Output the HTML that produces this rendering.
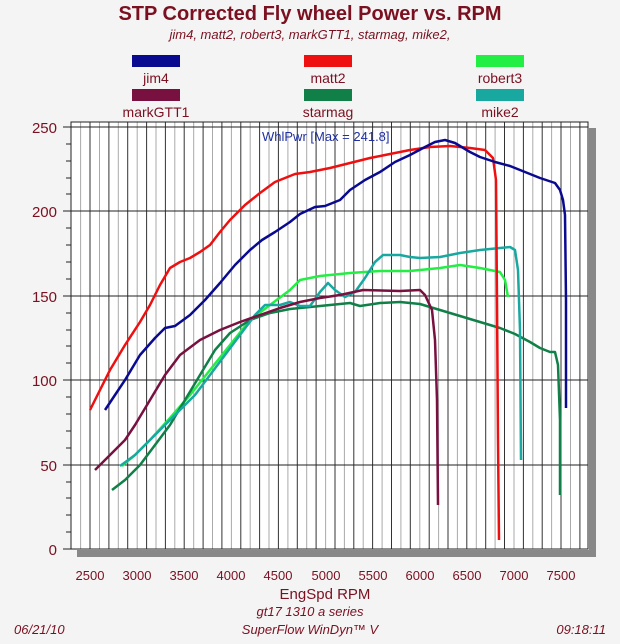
<!DOCTYPE html>
<html><head><style>
body{margin:0;background:#f4f4f4;width:620px;height:639px;overflow:hidden;font-family:"Liberation Sans",sans-serif;}
</style></head><body>
<svg width="620" height="639" xmlns="http://www.w3.org/2000/svg" font-family="Liberation Sans, sans-serif">
<rect width="620" height="639" fill="#f4f4f4"/>
<text x="310" y="20" text-anchor="middle" font-size="20" font-weight="bold" fill="#7a1020">STP Corrected Fly wheel Power vs. RPM</text>
<text x="310" y="39" text-anchor="middle" font-size="13" font-style="italic" fill="#7a1020">jim4, matt2, robert3, markGTT1, starmag, mike2,</text>
<rect x="132" y="55" width="48" height="12" fill="#0a0a90"/>
<rect x="304" y="55" width="48" height="12" fill="#ee1010"/>
<rect x="476" y="55" width="48" height="12" fill="#22ee44"/>
<rect x="132" y="89" width="48" height="12" fill="#781040"/>
<rect x="304" y="89" width="48" height="12" fill="#108048"/>
<rect x="476" y="89" width="48" height="12" fill="#18a8a0"/>
<g font-size="14" fill="#7a1020" text-anchor="middle">
<text x="156" y="83">jim4</text><text x="328" y="83">matt2</text><text x="500" y="83">robert3</text>
<text x="156" y="117">markGTT1</text><text x="328" y="117">starmag</text><text x="500" y="117">mike2</text>
</g>
<rect x="589" y="128" width="7" height="429" fill="#888"/>
<rect x="77" y="550" width="519" height="7" fill="#888"/>
<rect x="71" y="122" width="517" height="427" fill="#fff"/>
<path stroke="#aaa" stroke-width="1" fill="none" d="M80.6 122V549M99.5 122V549M118.3 122V549M137.2 122V549M156 122V549M174.8 122V549M193.7 122V549M212.5 122V549M231.4 122V549M250.2 122V549M269 122V549M287.9 122V549M306.7 122V549M325.6 122V549M344.4 122V549M363.2 122V549M382.1 122V549M400.9 122V549M419.8 122V549M438.6 122V549M457.4 122V549M476.3 122V549M495.1 122V549M514 122V549M532.8 122V549M551.6 122V549M570.5 122V549"/>
<path stroke="#333" stroke-width="1" fill="none" d="M90 122V549M108.9 122V549M127.7 122V549M146.6 122V549M165.4 122V549M184.2 122V549M203.1 122V549M221.9 122V549M240.8 122V549M259.6 122V549M278.4 122V549M297.3 122V549M316.1 122V549M335 122V549M353.8 122V549M372.6 122V549M391.5 122V549M410.3 122V549M429.2 122V549M448 122V549M466.8 122V549M485.7 122V549M504.5 122V549M523.4 122V549M542.2 122V549M561 122V549M579.9 122V549"/>
<g stroke="#222" stroke-width="1">
<line x1="71" y1="127" x2="588" y2="127"/><line x1="71" y1="211" x2="588" y2="211"/>
<line x1="71" y1="296" x2="588" y2="296"/><line x1="71" y1="380" x2="588" y2="380"/>
<line x1="71" y1="465" x2="588" y2="465"/>
</g>
<rect x="71" y="122" width="517" height="427" fill="none" stroke="#222"/>
<g stroke="#222">
<line x1="63" y1="127" x2="71" y2="127"/><line x1="63" y1="211" x2="71" y2="211"/><line x1="63" y1="296" x2="71" y2="296"/><line x1="63" y1="380" x2="71" y2="380"/><line x1="63" y1="465" x2="71" y2="465"/><line x1="63" y1="549" x2="71" y2="549"/>
<line x1="66" y1="144" x2="71" y2="144"/><line x1="66" y1="161" x2="71" y2="161"/><line x1="66" y1="178" x2="71" y2="178"/><line x1="66" y1="194" x2="71" y2="194"/>
<line x1="66" y1="228" x2="71" y2="228"/><line x1="66" y1="245" x2="71" y2="245"/><line x1="66" y1="262" x2="71" y2="262"/><line x1="66" y1="279" x2="71" y2="279"/>
<line x1="66" y1="313" x2="71" y2="313"/><line x1="66" y1="330" x2="71" y2="330"/><line x1="66" y1="346" x2="71" y2="346"/><line x1="66" y1="363" x2="71" y2="363"/>
<line x1="66" y1="397" x2="71" y2="397"/><line x1="66" y1="414" x2="71" y2="414"/><line x1="66" y1="431" x2="71" y2="431"/><line x1="66" y1="448" x2="71" y2="448"/>
<line x1="66" y1="482" x2="71" y2="482"/><line x1="66" y1="498" x2="71" y2="498"/><line x1="66" y1="515" x2="71" y2="515"/><line x1="66" y1="532" x2="71" y2="532"/>
</g>
<g font-size="15" fill="#7a1020" text-anchor="end">
<text x="57" y="133">250</text><text x="57" y="217">200</text><text x="57" y="302">150</text><text x="57" y="386">100</text><text x="57" y="471">50</text><text x="57" y="555">0</text>
</g>
<g font-size="13" fill="#7a1020" text-anchor="middle">
<text x="90" y="580">2500</text><text x="137" y="580">3000</text><text x="184" y="580">3500</text><text x="231" y="580">4000</text><text x="278" y="580">4500</text><text x="326" y="580">5000</text><text x="373" y="580">5500</text><text x="420" y="580">6000</text><text x="467" y="580">6500</text><text x="514" y="580">7000</text><text x="561" y="580">7500</text>
</g>
<text x="325" y="599" text-anchor="middle" font-size="15" fill="#7a1020">EngSpd  RPM</text>
<text x="310" y="616" text-anchor="middle" font-size="13" font-style="italic" fill="#7a1020">gt17 1310 a series</text>
<text x="310" y="634" text-anchor="middle" font-size="13" font-style="italic" fill="#7a1020">SuperFlow WinDyn™ V</text>
<text x="14" y="634" font-size="13" font-style="italic" fill="#7a1020">06/21/10</text>
<text x="606" y="634" text-anchor="end" font-size="13" font-style="italic" fill="#7a1020">09:18:11</text>
<text x="262" y="141" font-size="13" fill="#2030a0">WhlPwr [Max = 241.8]</text>
<g fill="none" stroke-width="2.5" stroke-linejoin="round">
<polyline stroke="#22ee44" points="122,466 135,455 150,440 170,418 190,395 210,370 230,345 250,320 270,305 290,290 300,280 320,276 350,273 380,271 410,271 440,268 460,265 480,268 500,272 505,280 508,297"/>
<polyline stroke="#108048" points="112,490 125,480 140,465 155,445 170,425 185,400 200,375 215,350 230,333 250,320 270,313 290,309 310,307 330,305 350,303 360,306 380,303 400,302 420,304 440,310 460,316 480,322 500,328 515,334 530,342 540,348 550,352 555,352 558,365 560,420 560,495"/>
<polyline stroke="#18a8a0" points="120,466 135,455 150,440 165,425 180,410 195,395 210,375 225,355 240,335 255,315 265,305 280,305 290,302 300,306 310,306 320,292 328,283 335,290 345,297 355,292 365,278 375,262 383,255 400,255 410,257 420,258 440,257 450,255 460,253 480,250 500,248 510,247 515,250 518,270 520,330 521,460"/>
<polyline stroke="#781040" points="95,470 105,460 115,450 125,440 135,425 150,400 165,375 180,355 200,340 220,330 240,322 260,315 280,308 300,302 320,298 340,295 363,290 400,291 420,290 425,295 432,310 435,340 437,400 438,505"/>
<polyline stroke="#ee1010" points="90,410 100,390 110,370 125,345 140,322 150,305 160,285 170,268 180,262 190,258 200,252 210,245 220,232 230,220 245,205 260,193 275,182 285,178 295,174 310,172 330,168 350,163 370,158 390,154 410,150 430,147 450,146 470,148 485,150 493,158 496,180 497,300 498,440 499,540"/>
<polyline stroke="#0a0a90" points="105,410 115,395 125,380 140,355 155,338 165,328 175,326 190,315 205,300 220,283 235,265 250,250 262,240 275,232 290,222 300,214 315,207 325,206 340,200 350,190 365,180 380,172 395,162 410,155 425,147 435,142 445,140 455,143 470,152 480,157 495,162 510,166 525,172 540,178 555,183 560,190 563,200 565,215 566,300 566,408"/>
</g>
</svg>
</body></html>
